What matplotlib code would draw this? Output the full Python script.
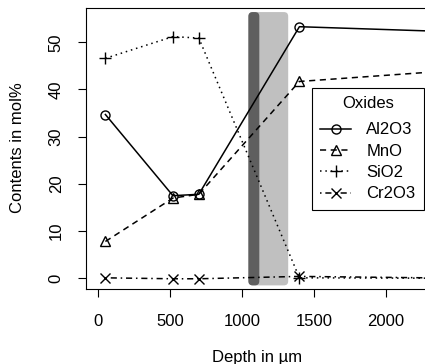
import matplotlib
matplotlib.use('Agg')
import matplotlib.pyplot as plt
from matplotlib.patches import FancyBboxPatch

plt.rcParams['font.family'] = ['Liberation Sans', 'DejaVu Sans']

depth = [50, 520, 700, 1400, 2600]
al2o3 = [34.7, 17.5, 17.8, 53.3, 52.1]
mno = [7.8, 17.0, 17.8, 41.7, 44.3]
sio2 = [46.6, 51.2, 50.9, 0.1, 0.0]
cr2o3 = [0.1, -0.1, -0.1, 0.4, 0.0]

names = ['Al2O3', 'MnO', 'SiO2', 'Cr2O3']
series = [al2o3, mno, sio2, cr2o3]
markers = ['o', '^', '+', 'x']
msizes = [6.5, 7, 9, 6.5]
dashes = [None, (4, 3), (1, 2.5), (1, 2.5, 4, 2.5)]

# interface zone (light: whole zone, dark: sharp boundary)
zone_light = (1045, 1322)
zone_dark = (1045, 1121)
zone_y = (-1.5, 56.4)

fig = plt.figure(figsize=(4.25, 3.64), dpi=100)
ax = fig.add_axes([86/425, 1-289.3/364, (425-86)/425, (289.3-8.3)/364])

for (x0, x1), col in [(zone_light, '#c0c0c0'), (zone_dark, '#5f5f5f')]:
    p = FancyBboxPatch((x0, zone_y[0]), x1 - x0, zone_y[1] - zone_y[0],
                       boxstyle='round,pad=0,rounding_size=30', mutation_aspect=0.03,
                       facecolor=col, edgecolor='none', zorder=1)
    ax.add_patch(p)

for name, vals, m, ms, d in zip(names, series, markers, msizes, dashes):
    line, = ax.plot(depth, vals, color='black', lw=1.1, marker=m, markersize=ms,
                    markerfacecolor='none', markeredgewidth=1.0, label=name, zorder=3)
    if d is not None:
        line.set_dashes(d)

ax.set_xlim(-85, 2274)
ax.set_ylim(-2.33, 57.2)
ax.set_xticks([0, 500, 1000, 1500, 2000])
ax.set_yticks([0, 10, 20, 30, 40, 50])
ax.tick_params(labelsize=12, length=6, width=0.8)
ax.tick_params(axis='x', pad=12)
ax.tick_params(axis='y', pad=10)
for lab in ax.get_yticklabels():
    lab.set_rotation(90)
    lab.set_va('center')
ax.spines['right'].set_visible(False)
for s in ['left', 'top', 'bottom']:
    ax.spines[s].set_linewidth(0.8)
ax.set_xlabel('Depth in µm', fontsize=12)
ax.set_ylabel('Contents in mol%', fontsize=12)
ax.xaxis.set_label_coords(0.505, -0.215)
ax.yaxis.set_label_coords(-0.18, 0.503)

leg = ax.legend(title='Oxides', loc='upper left', bbox_to_anchor=(312/425, 1-88/364),
                bbox_transform=fig.transFigure, fontsize=12, title_fontsize=12,
                fancybox=False, edgecolor='black', framealpha=1, handlelength=1.85,
                handletextpad=0.9, borderpad=0.5, labelspacing=0.38, borderaxespad=0)
leg.get_frame().set_linewidth(0.8)
leg._legend_box.sep = 8

fig.savefig('out.png', dpi=100)
